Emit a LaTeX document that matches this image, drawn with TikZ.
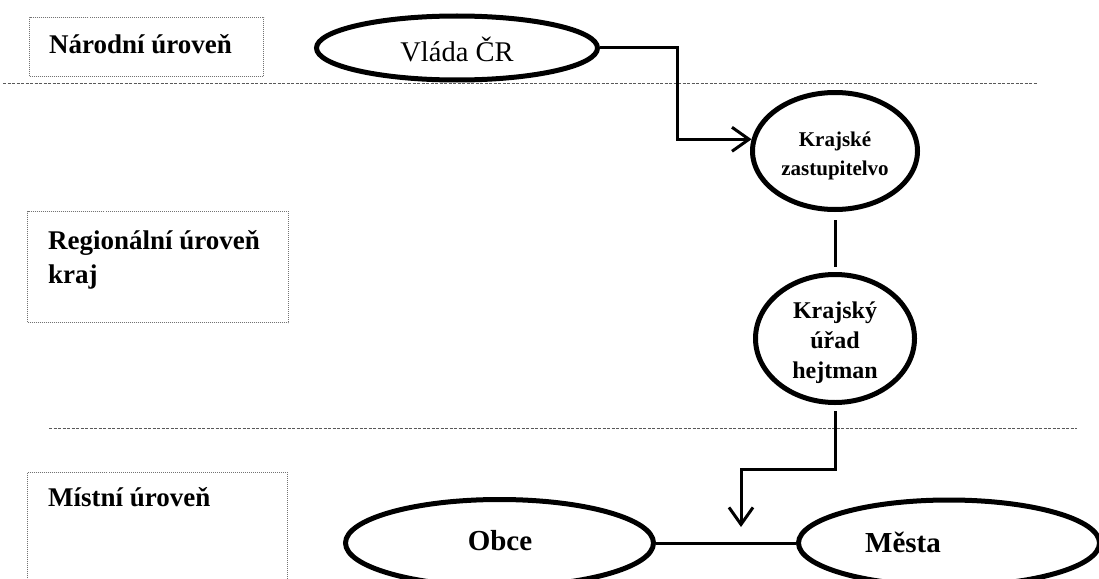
\documentclass[tikz,border=0pt]{standalone}
\usepackage{fontspec}
\setmainfont{Liberation Serif}
\usetikzlibrary{arrows.meta,shapes.geometric}
\tikzset{
  oval/.style={draw=black, line width=5pt, ellipse, inner sep=0pt},
  conn/.style={draw=black, line width=3pt},
  barb/.style={-{Straight Barb[length=17pt,width=24pt,line width=3pt]}},
  levelbox/.style={draw=black!55, line width=1pt, dash pattern=on 1pt off 1pt, rectangle, inner sep=0pt, anchor=north west},
  sepline/.style={draw=black!65, line width=1pt, dash pattern=on 3pt off 1.5pt},
  lbl/.style={inner sep=0pt, font=\bfseries\fontsize{27}{27}\selectfont},
  txt/.style={inner sep=0pt, anchor=base},
}
\begin{document}
\begin{tikzpicture}[x=1pt,y=-1pt]
\useasboundingbox (0,0) rectangle (1099,578);
\fill[white] (0,0) rectangle (1099,578);
\clip (0,0) rectangle (1099,578);

% level boxes
\node[levelbox, minimum width=234pt, minimum height=59pt] (nar) at (29,17) {};
\node[levelbox, minimum width=261pt, minimum height=111pt] (reg) at (27,211) {};
\node[levelbox, minimum width=260pt, minimum height=130pt] (mis) at (27,472) {};
\node[lbl, anchor=base west] (nart) at (49,53) {Národní úroveň};
\node[lbl, anchor=base west] (regt1) at (48,249) {Regionální úroveň};
\node[lbl, anchor=base west] (regt2) at (48,283) {kraj};
\node[lbl, anchor=base west] (mist) at (48,506) {Místní úroveň};

% separator lines
\coordinate (s1a) at (3,83);
\coordinate (s1b) at (1037,83);
\coordinate (s2a) at (49,428);
\coordinate (s2b) at (1077,428);
\draw[sepline] (s1a) -- (s1b);
\draw[sepline] (s2a) -- (s2b);

% ellipses
\node[oval, minimum width=281pt, minimum height=64pt] (vlada) at (457,48) {};
\node[oval, minimum width=165pt, minimum height=117pt] (kz) at (835,151) {};
\node[oval, minimum width=159pt, minimum height=128pt] (ku) at (835,338.5) {};
\node[oval, minimum width=308pt, minimum height=87pt] (obce) at (499.5,543) {};
\node[oval, minimum width=301pt, minimum height=86pt] (mesta) at (949,543) {};

% texts
\node[txt, font=\fontsize{28.5}{28.5}\selectfont] (vladat) at (457,62) {Vláda ČR};
\node[txt, font=\bfseries\fontsize{21}{21}\selectfont] (kzt1) at (835,146) {Krajské};
\node[txt, font=\bfseries\fontsize{21}{21}\selectfont] (kzt2) at (835,175) {zastupitelvo};
\node[txt, font=\bfseries\fontsize{24}{24}\selectfont] (kut1) at (835,318) {Krajský};
\node[txt, font=\bfseries\fontsize{24}{24}\selectfont] (kut2) at (835,348) {úřad};
\node[txt, font=\bfseries\fontsize{24}{24}\selectfont] (kut3) at (835,378) {hejtman};
\node[txt, font=\bfseries\fontsize{29}{29}\selectfont] (obcet) at (500,550) {Obce};
\node[txt, font=\bfseries\fontsize{29}{29}\selectfont] (mestat) at (903,552) {Města};

% connectors
\draw[conn, barb, line join=miter] (vlada.east) -- ++(77,0) |- (kz.172);
\draw[conn] ([yshift=-8pt]kz.south) -- ([yshift=5pt]ku.north);
\coordinate (tgt) at (741,527);
\draw[conn, barb, line join=miter] ([yshift=-6pt]ku.south) -- ++(0,58) -| (tgt);
\draw[conn] (obce.east) -- (mesta.west);
\end{tikzpicture}
\end{document}
